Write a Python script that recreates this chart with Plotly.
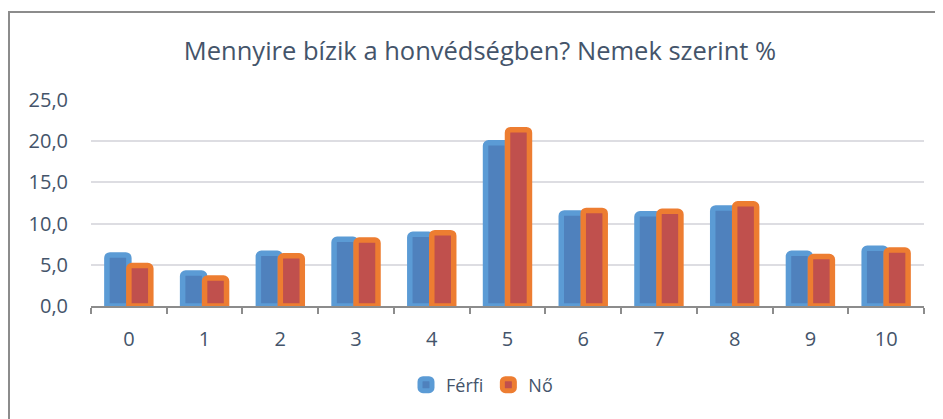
import plotly.graph_objects as go

categories = ["0", "1", "2", "3", "4", "5", "6", "7", "8", "9", "10"]
ferfi = [6.2, 4.0, 6.4, 8.1, 8.7, 19.8, 11.3, 11.2, 11.9, 6.4, 7.0]
no = [4.9, 3.4, 6.1, 8.0, 8.9, 21.4, 11.6, 11.5, 12.4, 6.0, 6.8]
y_ticks = [0, 5, 10, 15, 20, 25]

TXT = "#44546A"
FONT = "Open Sans"

fig = go.Figure()
fig.add_trace(go.Bar(
    x=categories, y=ferfi, name="Férfi",
    marker=dict(color="#4F81BD", line=dict(color="#5B9BD5", width=5.5), cornerradius=3),
))
fig.add_trace(go.Bar(
    x=categories, y=no, name="Nő",
    marker=dict(color="#C0504D", line=dict(color="#ED7D31", width=5.5), cornerradius=3),
))

# page body has an 8px margin: work in figure coordinates = screen - 8
OFF = 8
W, H = 943, 419
L, R, T, B = 91 - OFF, 943 - (924 - OFF), 100 - OFF, 419 - (306 - OFF)
pw, ph = W - L - R, H - T - B

def px(x):
    return (x - OFF - L) / pw

def py(y):
    return (H - B - (y - OFF)) / ph

fig.update_layout(
    width=W, height=H,
    margin=dict(l=L, r=R, t=T, b=B),
    paper_bgcolor="white", plot_bgcolor="white",
    separators=",.",
    barmode="group", bargap=0.42, bargroupgap=0,
    font=dict(family=FONT, color=TXT, size=20),
    title=dict(text="Mennyire bízik a honvédségben? Nemek szerint %",
               x=(480 - OFF) / W, xanchor="center", y=1 - (51 - OFF) / H, yanchor="middle",
               xref="container", yref="container", font=dict(family=FONT, size=25.5, color=TXT)),
    legend=dict(orientation="h", x=px(482), xanchor="center", y=py(385), yanchor="middle",
                font=dict(family=FONT, size=18, color=TXT), itemwidth=30,
                traceorder="normal"),
    xaxis=dict(type="category", range=[-0.5, 10.5], showline=True, linecolor="#8C8C8C",
               linewidth=1.5, ticks="outside", tickson="boundaries", ticklen=6,
               tickcolor="#8C8C8C", tickwidth=1.5, showgrid=False,
               ticklabelstandoff=14, tickfont=dict(size=20, color=TXT)),
    yaxis=dict(range=[0, 25], tickvals=y_ticks, tickformat=".1f", showgrid=True,
               gridcolor="#DDDDE2", gridwidth=1.5, zeroline=False, showline=False,
               ticks="", ticklabelstandoff=22, tickfont=dict(size=20, color=TXT)),
    shapes=[dict(type="rect", xref="paper", yref="paper",
                 x0=px(9), x1=px(960), y0=py(440), y1=py(12),
                 line=dict(color="#8C8C8C", width=2), fillcolor="rgba(0,0,0,0)", layer="below")],
)

fig.write_html("out.html")
